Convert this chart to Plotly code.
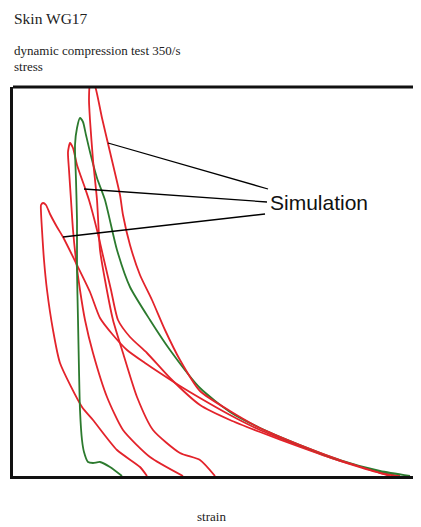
import plotly.graph_objects as go

# Data (arbitrary strain / stress units)
meas_strain = [109, 97, 87, 80, 75, 71, 69, 67, 66, 65, 64, 64, 63, 62, 64, 67, 70, 73, 77, 84, 92, 104, 117, 137, 157, 187, 217, 247, 287, 327, 367, 397]
meas_stress = [0, 9, 14, 13, 14, 24, 36, 66, 106, 156, 206, 256, 296, 331, 348, 358, 354, 341, 324, 298, 276, 226, 189, 156, 126, 88, 64, 48, 31, 16, 5, 0]

simA_strain = [134, 127, 104, 80, 69, 47, 40, 34, 31, 29, 28, 28, 30, 33, 37, 44, 50, 64, 77, 87, 100, 114, 132, 147, 167, 187, 217, 247, 287, 327, 367, 382]
simA_stress = [0, 9, 26, 56, 69, 113, 146, 186, 216, 246, 264, 271, 273, 271, 262, 249, 239, 211, 184, 158, 141, 126, 113, 103, 90, 78, 61, 46, 30, 15, 4, 0]

simB_strain = [170, 137, 110, 94, 80, 72, 67, 63, 60, 58, 56, 55, 57, 60, 64, 72, 76, 84, 91, 98, 105, 117, 134, 157, 187, 217, 247, 287, 327, 367, 387]
simB_stress = [0, 19, 46, 79, 123, 156, 186, 216, 246, 276, 306, 324, 333, 328, 311, 288, 276, 246, 216, 186, 156, 139, 123, 98, 71, 56, 44, 29, 15, 3, 0]

simC_strain = [202, 187, 167, 140, 124, 110, 100, 92, 87, 84, 80, 77, 76, 77, 79, 82, 89, 97, 107, 110, 117, 127, 139, 152, 167, 187, 217, 247, 287, 327, 364, 377]
simC_stress = [0, 16, 23, 46, 79, 123, 156, 196, 226, 276, 316, 356, 376, 392, 394, 390, 358, 324, 281, 261, 231, 201, 176, 146, 116, 85, 65, 48, 31, 16, 4, 0]

x_range = [0, 408]
y_range = [0, 389]

RED = "#e3232b"
GREEN = "#2c7a2e"

fig = go.Figure()
for xs, ys, col in [(simA_strain, simA_stress, RED),
                    (simB_strain, simB_stress, RED),
                    (meas_strain, meas_stress, GREEN),
                    (simC_strain, simC_stress, RED)]:
    fig.add_trace(go.Scatter(x=xs, y=ys, mode="lines",
                             line=dict(color=col, width=1.8, shape="spline", smoothing=0.6),
                             showlegend=False, hoverinfo="skip"))

# leader lines from label to simulation curves (data coords)
leaders = [((95, 333), (255, 287)), ((71, 287), (254, 274)), ((50, 239), (252, 262))]
for (x0, y0), (x1, y1) in leaders:
    fig.add_shape(type="line", xref="x", yref="y", x0=x0, y0=y0, x1=x1, y1=y1,
                  line=dict(color="black", width=1.3))

# top border of frame (right side open)
fig.add_shape(type="line", xref="paper", yref="paper", x0=0, x1=1.05, y0=1, y1=1,
              line=dict(color="#111", width=3))

serif = "Liberation Serif, Times New Roman, serif"
fig.add_annotation(xref="paper", yref="paper", xanchor="left", yanchor="top",
                   x=-0.003, y=1.2025, text="Skin WG17", showarrow=False,
                   font=dict(family=serif, size=15.5, color="#222"))
for txt, yy in [("dynamic compression test 350/s", 1.095), ("stress", 1.052)]:
    fig.add_annotation(xref="paper", yref="paper", xanchor="left", yanchor="middle",
                       x=-0.003, y=yy, text=txt, showarrow=False,
                       font=dict(family=serif, size=13, color="#222"))
fig.add_annotation(xref="paper", yref="paper", x=0.4877, y=-0.105, text="strain",
                   showarrow=False, xanchor="center", yanchor="middle",
                   font=dict(family=serif, size=13, color="#222"))
fig.add_annotation(xref="paper", yref="paper", x=0.625, y=0.702, text="Simulation",
                   showarrow=False, xanchor="left", yanchor="middle",
                   font=dict(family="Liberation Sans, Arial, sans-serif", size=21, color="#111"))

fig.update_xaxes(range=x_range, showline=True, linecolor="#111", linewidth=3,
                 showgrid=False, zeroline=False, showticklabels=False, ticks="")
fig.update_yaxes(range=y_range, showline=True, linecolor="#111", linewidth=3,
                 showgrid=False, zeroline=False, showticklabels=False, ticks="")
# page has an 8px body margin, so the figure is shrunk and shifted to compensate
fig.update_layout(width=413, height=519, margin=dict(l=5, r=0, t=79, b=51),
                  plot_bgcolor="white", paper_bgcolor="white")

fig.write_html("out.html")
